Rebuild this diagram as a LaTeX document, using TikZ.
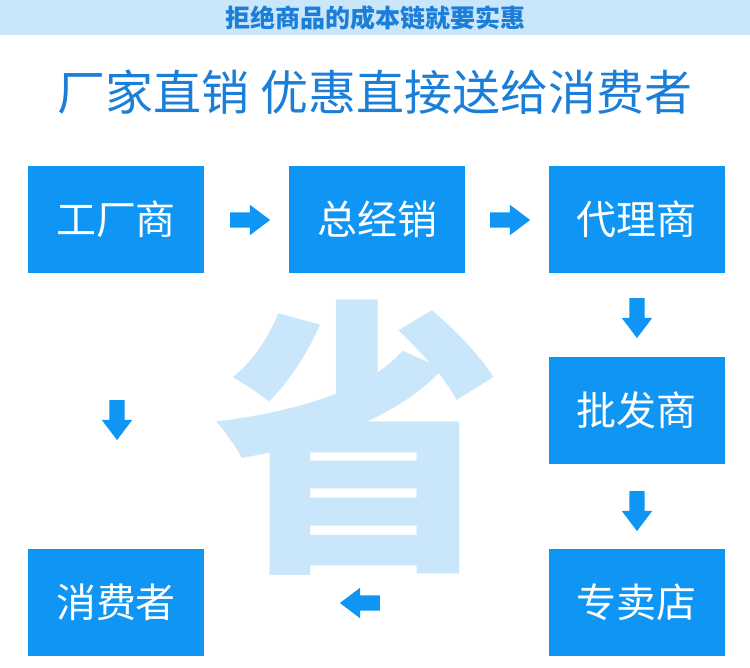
\documentclass[tikz,border=0pt]{standalone}
\usepackage{fontspec}
\setmainfont{Noto Sans CJK SC}
\usetikzlibrary{shapes.arrows}
\definecolor{boxblue}{HTML}{0F95F3}
\definecolor{titleblue}{HTML}{1B7ED8}
\definecolor{paleblue}{HTML}{C9E6FA}
\begin{document}
\begin{tikzpicture}[x=1pt, y=-1pt,
	stage/.style = {fill=boxblue, text=white, minimum width=176pt, minimum height=107pt, inner sep=0pt, font=\fontsize{40}{40}\selectfont},
	flow/.style = {single arrow, fill=boxblue, inner sep=0pt, minimum height=40pt, single arrow head extend=7.5pt, single arrow tip angle=74, rotate=#1}]
	\useasboundingbox (0,0) rectangle (750,668);
	\fill[paleblue] (0,0) rectangle (750,35);
	\node[text=titleblue, font=\bfseries\fontsize{25}{25}\selectfont] (slogan) at (375,18) {拒绝商品的成本链就要实惠};
	\node[text=titleblue, font=\fontsize{48}{48}\selectfont] (title) at (375,92) {厂家直销 优惠直接送给消费者};
	\node[text=paleblue, font=\bfseries\fontsize{290}{290}\selectfont] (save) at (358,438) {省};

	\node[stage] (s1) at (116,219.5) {工厂商};
	\node[stage] (s2) at (377,219.5) {总经销};
	\node[stage] (s3) at (636.5,219.5) {代理商};
	\node[stage] (s4) at (636.5,410.5) {批发商};
	\node[stage] (s5) at (636.5,602.5) {专卖店};
	\node[stage] (s6) at (116,602.5) {消费者};

	\node[flow=0] (a1) at (245,220) {\rule{0pt}{15pt}};
	\node[flow=0] (a2) at (505,220) {\rule{0pt}{15pt}};
	\node[flow=-90] (a3) at (637,313) {\rule{0pt}{15pt}};
	\node[flow=-90] (a4) at (637,506) {\rule{0pt}{15pt}};
	\node[flow=180] (a5) at (365,603) {\rule{0pt}{15pt}};
	\node[flow=-90] (a6) at (117,415) {\rule{0pt}{15pt}};
\end{tikzpicture}
\end{document}
